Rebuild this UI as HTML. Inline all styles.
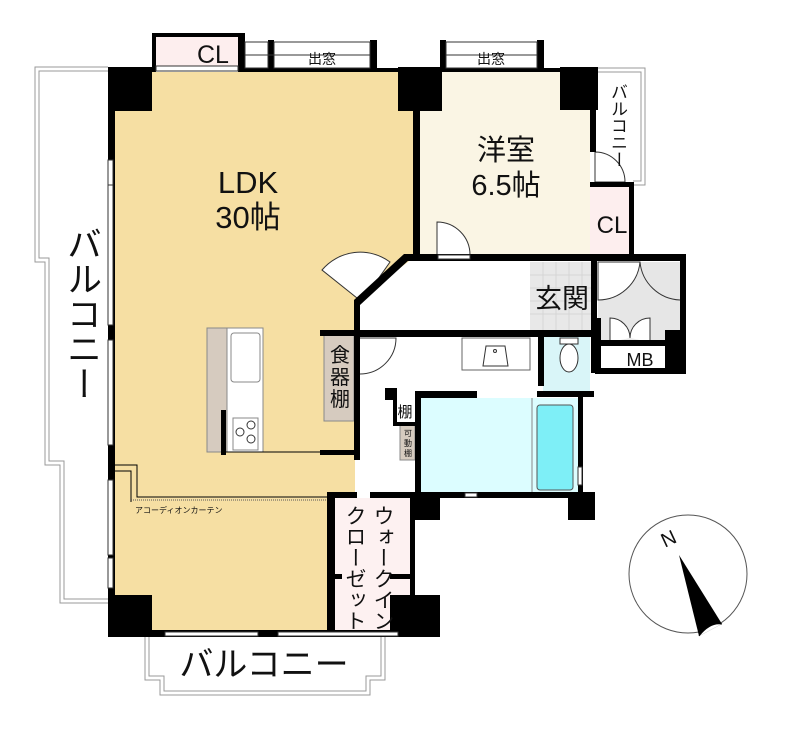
<!DOCTYPE html>
<html><head><meta charset="utf-8"><style>
body{margin:0;background:#fff;position:relative;width:800px;height:730px;overflow:hidden}
svg{display:block;position:absolute;left:0;top:0}
text{font-family:"Liberation Sans","Noto Sans CJK JP",sans-serif;fill:#111}
.v{position:absolute;writing-mode:vertical-rl;font-family:"Liberation Sans","Noto Sans CJK JP",sans-serif;color:#111;line-height:1;white-space:nowrap}
</style></head><body>
<svg width="800" height="730" viewBox="0 0 800 730" xmlns="http://www.w3.org/2000/svg">
<g fill="none" stroke="#999" stroke-width="1">
<polyline points="108,67 35,67 35,262 45,262 45,465 60,465 60,603 108,603"/>
<polyline points="108,71 39,71 39,258 49,258 49,461 64,461 64,599 108,599"/>
<polyline points="145,637 145,680 160,680 160,695 370,695 370,680 385,680 385,637"/>
<polyline points="149,637 149,676 164,676 164,691 366,691 366,676 381,676 381,637"/>
<polyline points="595,68 645,68 645,185 633,185"/>
<polyline points="595,72 641,72 641,181 633,181"/>
</g>
<polygon points="115,72 413,72 413,258 355,303 355,495 330,495 330,632 115,632" fill="#f6dfa3"/>
<rect x="420" y="72" width="170" height="183" fill="#faf5e4"/>
<rect x="590" y="185" width="43" height="70" fill="#fdeeee"/>
<rect x="152" y="35" width="90" height="35" fill="#fdeeee"/>
<rect x="330" y="498" width="82" height="132" fill="#fdf1f1"/>
<rect x="530" y="262" width="65" height="68" fill="#e8e8e8"/>
<g stroke="#d6d6d6" stroke-width="1">
<line x1="543" y1="262" x2="543" y2="330"/><line x1="556" y1="262" x2="556" y2="330"/><line x1="569" y1="262" x2="569" y2="330"/><line x1="582" y1="262" x2="582" y2="330"/>
<line x1="530" y1="275" x2="595" y2="275"/><line x1="530" y1="288" x2="595" y2="288"/><line x1="530" y1="301" x2="595" y2="301"/><line x1="530" y1="314" x2="595" y2="314"/>
</g>
<rect x="598" y="262" width="82" height="80" fill="#e6e6e6"/>
<rect x="543" y="336" width="47" height="57" fill="#d9f5f8"/>
<rect x="420" y="398" width="158" height="95" fill="#dcfdff"/>
<rect x="537" y="405" width="36" height="85" rx="3" fill="#7eeff7" stroke="#555"/>
<line x1="532" y1="398" x2="532" y2="493" stroke="#888"/>
<g fill="#fff" stroke="#333" stroke-width="1">
<path d="M598,300 A42,42 0 0 0 640,262 L598,262 Z"/>
<path d="M680,300 A42,42 0 0 1 640,262" fill="none"/>
<path d="M610,342 L610,318 A20,20 0 0 1 630,338"/>
<path d="M650,342 L650,318 A20,20 0 0 0 630,338"/>
<path d="M437,255 L437,222 A33,33 0 0 1 470,255"/>
<path d="M360,338 L396,338 A36,36 0 0 1 360,374"/>
<path d="M362,302 L322,270 A50,50 0 0 1 390,262 Z"/>
<path d="M595,152 A30,30 0 0 1 625,182 L595,182 Z"/>
</g>
<rect x="462" y="338" width="68" height="32" fill="#fff" stroke="#666"/>
<path d="M483,366 L486,346 L505,346 L508,366 Z" fill="#fff" stroke="#333"/>
<circle cx="495" cy="351" r="1.5" fill="none" stroke="#333"/>
<rect x="560" y="338" width="18" height="6" fill="#fff" stroke="#333"/>
<ellipse cx="569" cy="358" rx="9" ry="14" fill="#fff" stroke="#333"/>
<rect x="207" y="328" width="20" height="124" fill="#d6cbbf" stroke="#888"/>
<rect x="227" y="328" width="36" height="124" fill="#fff" stroke="#888"/>
<rect x="231" y="333" width="29" height="49" rx="3" fill="#fff" stroke="#888"/>
<rect x="233" y="418" width="25" height="32" fill="#fff" stroke="#888"/>
<circle cx="240" cy="432" r="4" fill="none" stroke="#333"/><circle cx="251" cy="425" r="4" fill="none" stroke="#333"/><circle cx="251" cy="439" r="4" fill="none" stroke="#333"/>
<rect x="221" y="410" width="5" height="45" fill="#000"/>
<line x1="226" y1="452" x2="322" y2="452" stroke="#000"/>
<rect x="320" y="450" width="36" height="5" fill="#000"/>
<rect x="324" y="335" width="30" height="86" fill="#d6cbbf" stroke="#888"/>
<rect x="400" y="425" width="15" height="35" fill="#d6cbbf" stroke="#888"/>
<polyline points="115,465 137,465 137,497 327,497" fill="none" stroke="#000" stroke-width="1"/>
<polyline points="115,471 131,471 131,502" fill="none" stroke="#000" stroke-width="1"/>
<line x1="131" y1="500" x2="327" y2="500" stroke="#555" stroke-dasharray="1,1"/>
<g fill="#000">
<rect x="108" y="67" width="7" height="570"/>
<rect x="108" y="67" width="44" height="44"/>
<rect x="152" y="33" width="4" height="39"/><rect x="152" y="33" width="90" height="4"/><rect x="238" y="33" width="7" height="39"/>
<rect x="242" y="68" width="160" height="4"/>
<rect x="268" y="40" width="6" height="32"/><rect x="370" y="40" width="7" height="32"/>
<rect x="398" y="67" width="44" height="44"/>
<rect x="413" y="67" width="7" height="192"/>
<rect x="440" y="40" width="6" height="32"/><rect x="537" y="40" width="7" height="32"/>
<rect x="440" y="68" width="125" height="4"/>
<rect x="560" y="67" width="38" height="43"/>
<rect x="590" y="67" width="6" height="85"/>
<rect x="590" y="182" width="43" height="5"/>
<rect x="629" y="182" width="5" height="76"/>
<rect x="404" y="254" width="282" height="7"/>
<polygon points="404,254 410,259 360,305 354,300"/>
<rect x="354" y="300" width="6" height="160"/>
<rect x="320" y="330" width="40" height="6"/>
<rect x="360" y="330" width="237" height="7"/>
<rect x="591" y="258" width="6" height="115"/>
<rect x="595" y="318" width="6" height="52"/>
<rect x="595" y="340" width="85" height="6"/>
<rect x="595" y="368" width="90" height="6"/>
<rect x="665" y="330" width="20" height="44"/>
<rect x="680" y="258" width="6" height="116"/>
<rect x="538" y="336" width="6" height="50"/>
<rect x="537" y="391" width="57" height="6"/>
<rect x="415" y="391" width="62" height="7"/>
<rect x="385" y="388" width="10" height="12"/>
<rect x="393" y="388" width="4" height="38"/><rect x="393" y="422" width="22" height="4"/>
<rect x="415" y="391" width="6" height="105"/>
<rect x="578" y="397" width="5" height="98"/>
<rect x="415" y="492" width="180" height="6"/>
<rect x="415" y="492" width="25" height="28"/>
<rect x="568" y="492" width="27" height="28"/>
<rect x="327" y="492" width="8" height="145"/>
<rect x="327" y="492" width="30" height="6"/>
<rect x="370" y="492" width="45" height="6"/>
<rect x="327" y="574" width="15" height="5"/><rect x="390" y="574" width="22" height="5"/>
<rect x="390" y="595" width="50" height="42"/>
<rect x="410" y="498" width="5" height="100"/>
<rect x="108" y="595" width="44" height="42"/>
<rect x="108" y="630" width="332" height="7"/>
</g>
<g fill="#fff" stroke="#333" stroke-width="1">
<rect x="156" y="66" width="82" height="5"/>
<rect x="245" y="42" width="23" height="26"/>
<rect x="274" y="42" width="96" height="26"/>
<rect x="446" y="42" width="91" height="26"/>
<rect x="108" y="160" width="5" height="100"/><rect x="108" y="185" width="5" height="140"/>
<rect x="108" y="340" width="5" height="105"/>
<rect x="108" y="480" width="5" height="75"/><rect x="108" y="558" width="5" height="30"/>
<rect x="165" y="632" width="93" height="4"/><rect x="278" y="632" width="120" height="4"/>
<rect x="438" y="255" width="32" height="4"/>
<rect x="465" y="493" width="12" height="4"/>
<rect x="578" y="467" width="4" height="18"/>
</g>
<g stroke="#333" stroke-width="1">
<line x1="245" y1="55" x2="370" y2="55"/><line x1="446" y1="55" x2="537" y2="55"/>
</g>
<circle cx="688" cy="574" r="59" fill="#fff" stroke="#555"/>
<polygon points="679,555 722,624 699,636" fill="#000"/>
<path d="M699,636 Q710,622 722,624" fill="#fff" stroke="#000"/>
<text x="662" y="545" font-family="Liberation Serif,serif" font-size="20" transform="rotate(-25 670 540)">N</text>
<text x="197" y="63" font-size="25">CL</text>
<text x="322" y="64" font-size="14" text-anchor="middle">出窓</text>
<text x="491" y="64" font-size="14" text-anchor="middle">出窓</text>
<text x="248" y="193" font-size="31" text-anchor="middle">LDK</text>
<text x="248" y="228" font-size="31" text-anchor="middle">30帖</text>
<text x="506" y="160" font-size="29" text-anchor="middle">洋室</text>
<text x="506" y="195" font-size="29" text-anchor="middle">6.5帖</text>
<text x="612" y="233" font-size="24" text-anchor="middle">CL</text>
<text x="562" y="308" font-size="27" text-anchor="middle">玄関</text>
<text x="640" y="366" font-size="18" text-anchor="middle">MB</text>
<text x="405" y="417" font-size="15" text-anchor="middle">棚</text>
<g font-size="8" text-anchor="middle"><text x="408" y="436">可</text><text x="408" y="446">動</text><text x="408" y="456">棚</text></g>
<g font-size="20" text-anchor="middle"><text x="340" y="362">食</text><text x="340" y="384">器</text><text x="340" y="406">棚</text></g>
<text x="135" y="513" font-size="8">アコーディオンカーテン</text>
<text x="264" y="676" font-size="34" text-anchor="middle">バルコニー</text>
</svg>
<div class="v" style="left:64px;top:226px;font-size:35px">バルコニー</div>
<div class="v" style="left:609px;top:83px;font-size:17px">バルコニー</div>
<div class="v" style="left:372px;top:505px;font-size:21px">ウォークイン</div>
<div class="v" style="left:344px;top:505px;font-size:21px">クローゼット</div>
</body></html>
